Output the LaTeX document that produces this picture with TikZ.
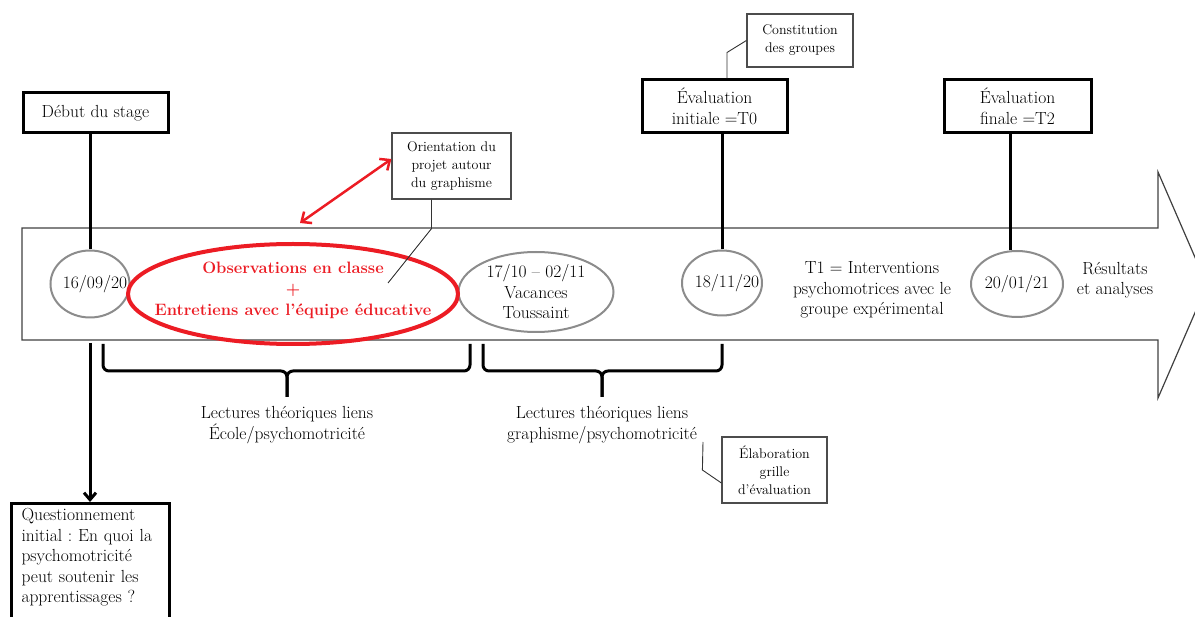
\documentclass[tikz,border=0pt]{standalone}
\usepackage{tikz}
\usetikzlibrary{shapes.geometric,arrows.meta}
\definecolor{markred}{RGB}{236,28,36}
\newcommand{\bodysize}{\fontsize{17.5}{20.5}\selectfont}
\newcommand{\notesize}{\fontsize{14}{18}\selectfont}
\frenchspacing
\tikzset{
	milestone/.style={draw, line width=3pt, minimum width=145pt, minimum height=53pt, align=center, font=\bodysize, inner sep=2pt},
	datebubble/.style={ellipse, draw=black!45, line width=2pt, fill=white, inner sep=0pt, align=center, font=\bodysize},
	note/.style={draw=black!70, line width=1.2pt, fill=white, align=center, font=\notesize},
	stem/.style={line width=3pt},
	leader/.style={draw=black!80, line width=0.9pt},
	brace/.style={line width=3pt, line join=round, rounded corners=6pt},
	plain/.style={align=center, font=\bodysize},
}

\begin{document}
\begin{tikzpicture}[x=1pt, y=-1pt, >={Straight Barb[length=7pt,width=12pt]}]
		\useasboundingbox (0,0) rectangle (1195,617);
		\clip (0,0) rectangle (1195,617);
		
		\draw[draw=black!75, line width=1.2pt] (22,228) -- (1158,228) -- (1158,172) -- (1207,285) -- (1158,398) -- (1158,340) -- (22,340) -- cycle;
		
		\foreach \px/\py/\w/\h/\s/\d [count=\i] in {90/284/79/67/5/{16/09/20}, 722/283/80/65/5/{18/11/20}, 1017/284/92/66/0/{20/01/21}}
		\node[datebubble, minimum width=\w pt, minimum height=\h pt, label={[plain, xshift=\s pt]center:\d}] (date-\i) at (\px,\py) {};
		
		\node[datebubble, minimum width=155pt, minimum height=80pt] (holidays) at (536,292) {17/10 – 02/11\\Vacances\\Toussaint};
		
		\node[plain, text=markred, font=\fontsize{16.5}{21}\selectfont\bfseries] (observe) at (293,290) {Observations en classe\\+\\Entretiens avec l’équipe éducative};
		\draw[markred, line width=4pt] (293,294) ellipse [x radius=165, y radius=50];
		
		\node[plain] (t1) at (872,290) {T1 = Interventions\\psychomotrices avec le\\groupe expérimental};
		\node[plain] (results) at (1115,280) {Résultats\\et analyses};
		
		\node[milestone, minimum height=40pt] (start) at (95.5,113) {Début du stage};
		\node[milestone] (eval-T0) at (714.5,106.5) {Évaluation\\initiale =T0};
		\node[milestone, minimum width=147pt] (eval-T2) at (1017.5,106) {Évaluation\\finale =T2};
		
		\draw[stem] (date-1.north) -- (date-1.north |- start.south);
		\draw[stem] (date-2.north) -- (date-2.north |- eval-T0.south);
		\draw[stem] ([xshift=-7pt]date-3.north) -- ([xshift=-7pt]date-3.north |- eval-T2.south);
		
		\node[note, minimum width=119pt, minimum height=66pt] (orient) at (451.5,166) {Orientation du\\projet autour\\du graphisme};
		\node[note, minimum width=106pt, minimum height=53pt] (groups) at (800,40.5) {Constitution\\des groupes};
		\node[note, minimum width=105pt, minimum height=66pt] (grid) at (774.5,470) {Élaboration\\grille\\d’évaluation};
		
		\coordinate (orient-tip) at (388,283);
		\draw[leader] ([xshift=-20pt]orient.south) -- ++(0,29) -- (orient-tip);
		\draw[leader] ([xshift=12.5pt]eval-T0.north) -- ++(0,-26) -- (groups.west);
		\coordinate (grid-tip) at (703,442);
		\draw[leader] ([yshift=-13pt]grid.west) -- ++(-19,-13) -- (grid-tip);
		
		\coordinate (observe-tip) at (300,223);
		\draw[<->, draw=markred, line width=2.5pt, >={Straight Barb[length=8pt,width=14pt]}] (observe-tip) -- ([yshift=7pt]orient.west);
		
		\foreach \a/\b/\m/\l [count=\i] in {103/470/287/{École/psychomotricité}, 483/722/602/{graphisme/psychomotricité}} {
			\draw[brace] (\a,344) |- (\m,371) -- (\m,397);
			\draw[brace] (\b,344) |- (\m,371) -- (\m,397);
			\node[plain] (reading-\i) at (\m,425) {Lectures théoriques liens\\\l};
		}
		
		\node[milestone, anchor=north west, align=left, text width=138pt, inner xsep=10pt, inner ysep=5pt, text depth=120pt] (question) at (10,502) {Questionnement\\initial : En quoi la\\psychomotricité\\peut soutenir les\\apprentissages ?};
		\coordinate (start-foot) at (90,343);
		\draw[stem, ->] (start-foot) -- (start-foot |- question.north);
		
\end{tikzpicture}
\end{document}
